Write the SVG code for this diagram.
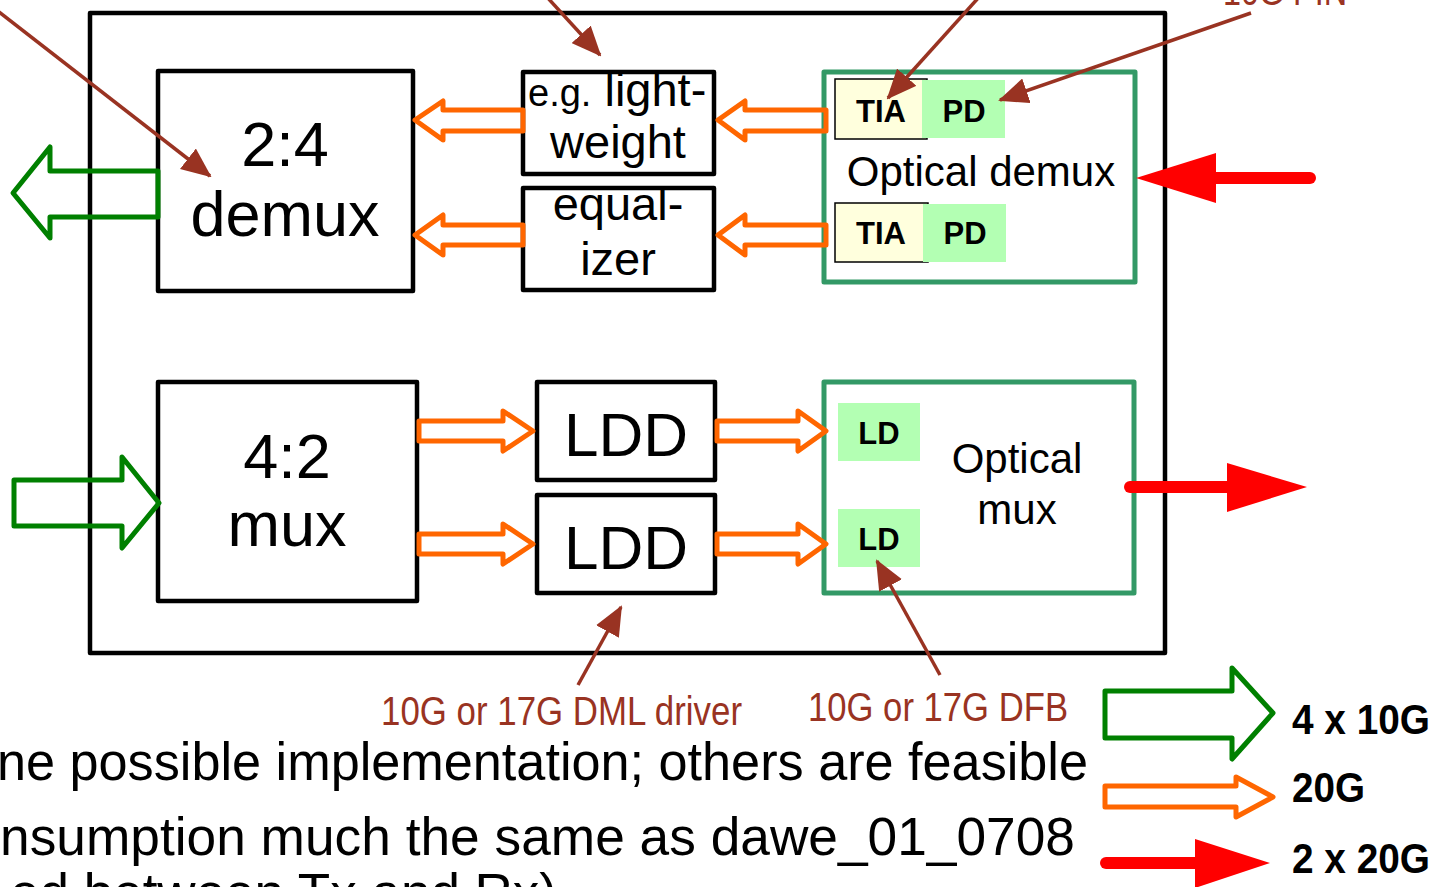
<svg xmlns="http://www.w3.org/2000/svg" width="1437" height="887" viewBox="0 0 1437 887">
<style>
.box{fill:#fff;stroke:#000;stroke-width:4.5;stroke-linejoin:round}
.gbox{fill:#fff;stroke:#339966;stroke-width:5;stroke-linejoin:round}
.t{font-family:"Liberation Sans",Arial,sans-serif;fill:#000}
.b{font-family:"Liberation Sans",Arial,sans-serif;font-weight:bold;fill:#000}
.n{font-family:"Liberation Sans Narrow","Liberation Sans",Arial,sans-serif;fill:#993322}
.lg{font-family:"Liberation Sans Narrow","Liberation Sans",Arial,sans-serif;font-weight:bold;fill:#000}
.oa{fill:none;stroke:#ff6600;stroke-width:5;stroke-linejoin:round}
.ga{fill:none;stroke:#008000;stroke-width:5;stroke-linejoin:round}
.rl{stroke:#ff0000;stroke-width:12;stroke-linecap:round}
.rh{fill:#ff0000}
.br{stroke:#993322;stroke-width:3.5;fill:none;marker-end:url(#bh)}
</style>
<defs>
<marker id="bh" markerUnits="userSpaceOnUse" viewBox="0 0 30 26" refX="28" refY="13" markerWidth="30" markerHeight="26" orient="auto">
<path d="M0,0 L30,13 L0,26 z" fill="#993322"/>
</marker>
</defs>
<rect width="1437" height="887" fill="#fff"/>
<g id="outer"><rect class="box" x="90" y="13" width="1075" height="640"/></g>
<g id="demux"><rect class="box" x="158" y="71" width="255" height="220"/>
<text class="t" x="285" y="166" font-size="63" text-anchor="middle">2:4</text>
<text class="t" x="285" y="236" font-size="63" text-anchor="middle">demux</text></g>
<g id="lightweight"><rect class="box" x="523" y="72" width="191" height="102"/>
<text class="t" x="528" y="106" font-size="47"><tspan font-size="38">e.g.</tspan> light-</text>
<text class="t" x="618" y="158" font-size="47" text-anchor="middle">weight</text></g>
<g id="equalizer"><rect class="box" x="523" y="188" width="191" height="102"/>
<text class="t" x="618" y="220" font-size="47" text-anchor="middle">equal-</text>
<text class="t" x="618" y="275" font-size="47" text-anchor="middle">izer</text></g>
<g id="optdemux"><rect class="gbox" x="824" y="72" width="311" height="210"/>
<rect x="835" y="79" width="92" height="60" fill="#ffffdd" stroke="#000" stroke-width="1.5"/>
<rect x="922" y="80" width="83" height="58" fill="#b3ffb3"/>
<text class="b" x="881" y="122" font-size="31" text-anchor="middle">TIA</text>
<text class="b" x="964" y="122" font-size="31" text-anchor="middle">PD</text>
<rect x="835" y="203" width="93" height="59" fill="#ffffdd" stroke="#000" stroke-width="1.5"/>
<rect x="923" y="204" width="83" height="58" fill="#b3ffb3"/>
<text class="b" x="881" y="244" font-size="31" text-anchor="middle">TIA</text>
<text class="b" x="965" y="244" font-size="31" text-anchor="middle">PD</text>
<text class="t" x="981" y="186" font-size="42" text-anchor="middle">Optical demux</text></g>
<g id="mux"><rect class="box" x="158" y="382" width="259" height="219"/>
<text class="t" x="287" y="478" font-size="63" text-anchor="middle">4:2</text>
<text class="t" x="287" y="546" font-size="63" text-anchor="middle">mux</text></g>
<g id="ldd1"><rect class="box" x="537" y="382" width="178" height="98"/>
<text class="t" x="626" y="456" font-size="62" text-anchor="middle">LDD</text></g>
<g id="ldd2"><rect class="box" x="537" y="495" width="178" height="98"/>
<text class="t" x="626" y="569" font-size="62" text-anchor="middle">LDD</text></g>
<g id="optmux"><rect class="gbox" x="824" y="382" width="310" height="211"/>
<rect x="838" y="403" width="82" height="58" fill="#b3ffb3"/>
<text class="b" x="879" y="444" font-size="31" text-anchor="middle">LD</text>
<rect x="838" y="509" width="82" height="58" fill="#b3ffb3"/>
<text class="b" x="879" y="550" font-size="31" text-anchor="middle">LD</text>
<text class="t" x="1017" y="473" font-size="42" text-anchor="middle">Optical</text>
<text class="t" x="1017" y="524" font-size="42" text-anchor="middle">mux</text></g>
<g id="connectors">
<polygon class="oa" points="415,120 443,101 443,110 523,110 523,131 443,131 443,140"/>
<polygon class="oa" points="718,120 745,101 745,110 826,110 826,131 745,131 745,140"/>
<polygon class="oa" points="415,235 443,215 443,225 523,225 523,245 443,245 443,255"/>
<polygon class="oa" points="718,235 745,215 745,225 826,225 826,245 745,245 745,255"/>
<polygon class="oa" points="419,421 503,421 503,411 533,431 503,451 503,441 419,441"/>
<polygon class="oa" points="717,421 798,421 798,411 826,431 798,451 798,441 717,441"/>
<polygon class="oa" points="419,534 503,534 503,524 533,544 503,564 503,554 419,554"/>
<polygon class="oa" points="717,534 798,534 798,524 826,544 798,564 798,554 717,554"/>
<polygon class="ga" points="13,193 50,147 50,171 158,171 158,217 50,217 50,238"/>
<polygon class="ga" points="14,480 122,480 122,457 159,503 122,548 122,526 14,526"/>
<line class="rl" x1="1310" y1="178" x2="1215" y2="178"/>
<polygon class="rh" points="1136,178 1216,153 1216,203"/>
<line class="rl" x1="1130" y1="487" x2="1228" y2="487"/>
<polygon class="rh" points="1307,487 1227,463 1227,512"/>
<line class="br" x1="-6" y1="8" x2="210" y2="176"/>
<line class="br" x1="546" y1="-4" x2="600" y2="55"/>
<line class="br" x1="980" y1="-4" x2="888" y2="98"/>
<line class="br" x1="1251" y1="13" x2="1000" y2="100"/>
<line class="br" x1="578" y1="685" x2="621" y2="607"/>
<line class="br" x1="940" y1="675" x2="877" y2="561"/>
</g>
<g id="labels">
<text class="n" x="1223" y="5" font-size="40" textLength="124" lengthAdjust="spacingAndGlyphs">10G PIN</text>
<text class="n" x="381" y="725" font-size="40" textLength="361" lengthAdjust="spacingAndGlyphs">10G or 17G DML driver</text>
<text class="n" x="808" y="721" font-size="40" textLength="260" lengthAdjust="spacingAndGlyphs">10G or 17G DFB</text>
</g>
<g id="legend">
<polygon class="ga" points="1105,691 1232,691 1232,668 1273,713 1232,759 1232,738 1105,738"/>
<polygon class="oa" points="1105,786 1236,786 1236,777 1273,797 1236,817 1236,807 1105,807"/>
<line class="rl" x1="1106" y1="863" x2="1196" y2="863"/>
<polygon class="rh" points="1270,863 1195,839 1195,888"/>
<text class="lg" x="1292" y="734" font-size="43" textLength="138" lengthAdjust="spacingAndGlyphs">4 x 10G</text>
<text class="lg" x="1292" y="802" font-size="43" textLength="73" lengthAdjust="spacingAndGlyphs">20G</text>
<text class="lg" x="1292" y="873" font-size="43" textLength="138" lengthAdjust="spacingAndGlyphs">2 x 20G</text>
</g>
<g id="notes">
<text class="t" x="-3" y="780" font-size="53" textLength="1091" lengthAdjust="spacingAndGlyphs">ne possible implementation; others are feasible</text>
<text class="t" x="0" y="855" font-size="53" textLength="1075" lengthAdjust="spacingAndGlyphs">nsumption much the same as dawe_01_0708</text>
<text class="t" x="10" y="911" font-size="53">ed between Tx and Rx)</text>
</g>
</svg>
